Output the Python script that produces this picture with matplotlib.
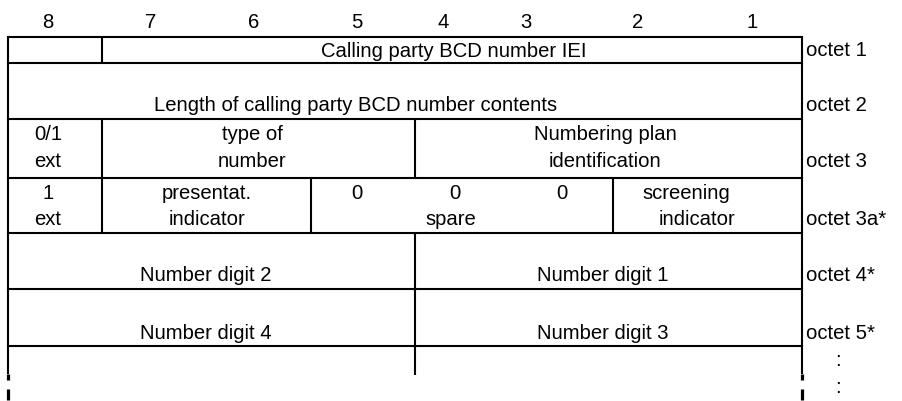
import matplotlib
matplotlib.use('Agg')
import matplotlib.pyplot as plt

plt.rcParams['font.family'] = ['Liberation Sans', 'DejaVu Sans']

# bit numbers over the columns and octet names at the right
bit_labels = ['8', '7', '6', '5', '4', '3', '2', '1']
octet_labels = ['octet 1', 'octet 2', 'octet 3', 'octet 3a*', 'octet 4*', 'octet 5*']

# field texts, one list per octet
row1_fields = ['Calling party BCD number IEI']
row2_fields = ['Length of calling party BCD number contents']
row3_fields = [['0/1', 'ext'], ['type of', 'number'], ['Numbering plan', 'identification']]
row4_top = ['1', 'presentat.', '0', '0', '0', 'screening']
row4_bottom = ['ext', 'indicator', 'spare', 'indicator']
row5_fields = ['Number digit 2', 'Number digit 1']
row6_fields = ['Number digit 4', 'Number digit 3']

# layout in pixels
left, right = 8, 802
mid = 415
header_x = [48, 151, 254, 357, 443, 526, 638, 752]
row_y = [37, 63, 119, 178, 233, 289, 346]
bottom = 374
fs = 14.6
lw = 1.5

fig = plt.figure(figsize=(9.02, 4.01), dpi=100)
ax = fig.add_axes([0, 0, 1, 1])
ax.set_xlim(0, 902)
ax.set_ylim(401, 0)
ax.axis('off')

def hline(y, x0=left, x1=right):
    ax.plot([x0, x1], [y, y], color='black', lw=lw, solid_capstyle='projecting')

def vline(x, y0, y1, w=lw):
    ax.plot([x, x], [y0, y1], color='black', lw=w, solid_capstyle='butt')

def txt(x, y, s, ha='center'):
    ax.text(x, y, s, ha=ha, va='baseline', fontsize=fs, color='black')

# header
for x, b in zip(header_x, bit_labels):
    txt(x, 28, b)

# grid
for y in row_y:
    hline(y)
vline(left, row_y[0], bottom)
vline(right, row_y[0], bottom)
for x in (left, right):
    vline(x, bottom, 380, w=2.3)
    vline(x, 389, 400, w=2.3)
vline(102, row_y[0], row_y[1])
vline(102, row_y[2], row_y[4])
vline(mid, row_y[2], row_y[3])
vline(311, row_y[3], row_y[4])
vline(613, row_y[3], row_y[4])
vline(mid, row_y[4], 375)

# octet labels
octet_base = [56, 111, 167, 225, 281, 339]
for yb, lab in zip(octet_base, octet_labels):
    txt(806, yb, lab, ha='left')
txt(838, 366, ':')
txt(838, 393, ':')

# octet 1 and 2
txt(454, 57, row1_fields[0])
txt(356, 111, row2_fields[0])

# octet 3
for xc, (a, b) in zip([48, 252, 605], row3_fields):
    txt(xc, 140, a)
    txt(xc, 167, b)

# octet 3a
for xc, s in zip([48, 207, 357, 455, 562, 686], row4_top):
    txt(xc, 199, s)
for xc, s in zip([48, 207, 451, 697], row4_bottom):
    txt(xc, 225, s)

# octets 4 and 5
for xc, s in zip([206, 603], row5_fields):
    txt(xc, 281, s)
for xc, s in zip([206, 603], row6_fields):
    txt(xc, 339, s)

fig.savefig('out.png', dpi=100)
